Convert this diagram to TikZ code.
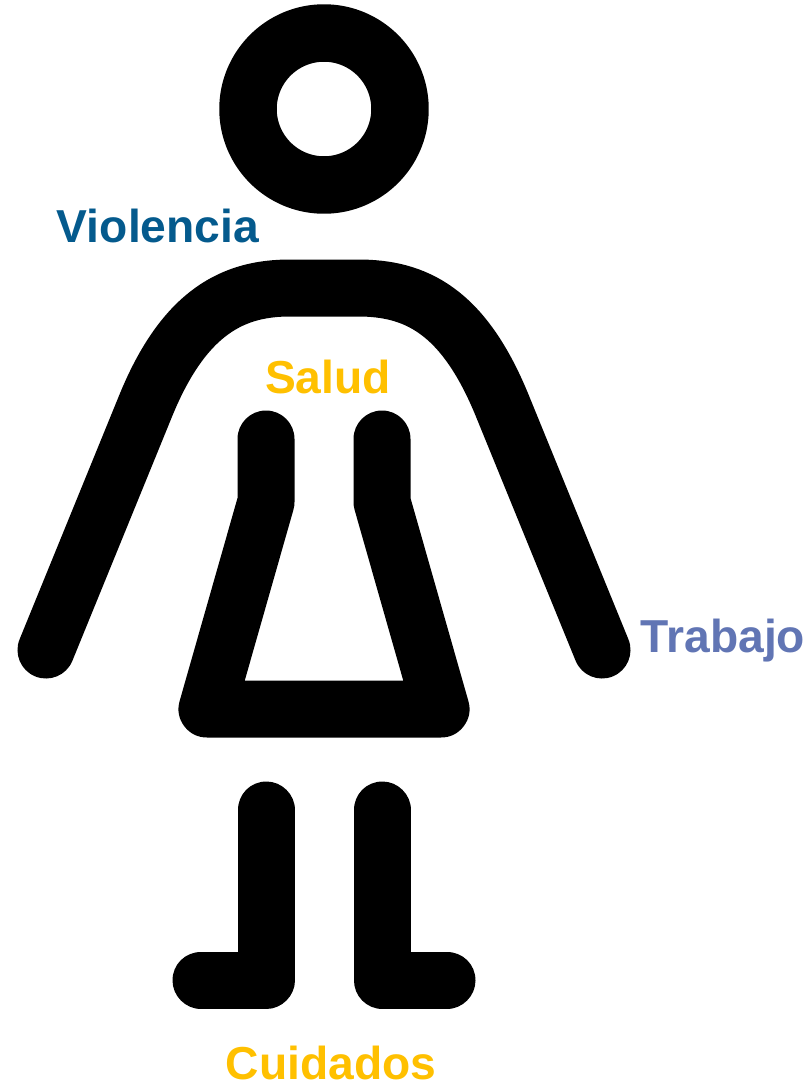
\documentclass[tikz,border=0pt]{standalone}
\usepackage{fontspec}
\setmainfont{Liberation Sans}
\definecolor{vio}{HTML}{045A8D}
\definecolor{sal}{HTML}{FFC000}
\definecolor{tra}{HTML}{6175B4}
\tikzset{figline/.style={line width=57pt,line cap=round,line join=round,black},
lab/.style={font=\bfseries\fontsize{46.2}{52}\selectfont,inner sep=0pt,anchor=base}}
\begin{document}
\begin{tikzpicture}[x=1pt,y=-1pt]
\useasboundingbox (0,0) rectangle (811,1087);
\draw[figline,line width=57.5pt] (324,109) circle (76);
\draw[figline] (46,650) -- (146,405) .. controls (185,310) and (235,288) .. (290,288) -- (358,288) .. controls (415,288) and (463,310) .. (502,405) -- (602,650);
\draw[figline] (266,439) -- (266,502) -- (207,709) -- (441,709) -- (382,502) -- (382,439);
\draw[figline] (266,810) -- (266,980) -- (201,980);
\draw[figline] (382,810) -- (382,980) -- (447,980);
\node[lab,text=vio] (v) at (158,242) {Violencia};
\node[lab,text=sal] (s) at (328,393) {Salud};
\node[lab,text=tra] (t) at (723,652) {Trabajo};
\node[lab,text=sal] (c) at (331,1079) {Cuidados};
\end{tikzpicture}
\end{document}
